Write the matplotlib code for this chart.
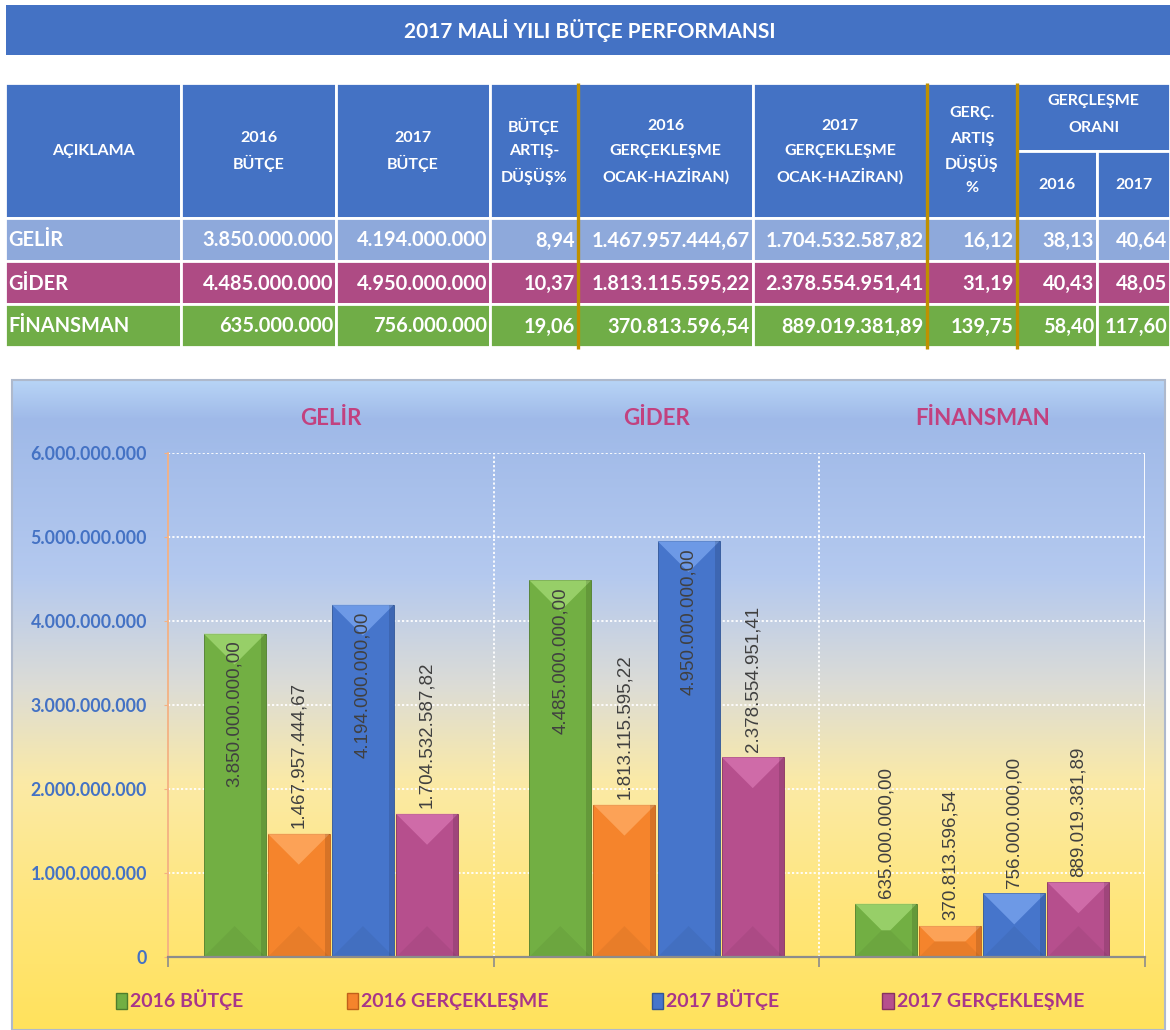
import matplotlib.pyplot as plt
import numpy as np
from matplotlib.colors import LinearSegmentedColormap
from matplotlib.patches import Patch, Polygon, Rectangle
from matplotlib.ticker import FuncFormatter, MultipleLocator

W, H = 1170, 1030
FONT = ['Lato', 'DejaVu Sans']

categories = ['GELİR', 'GİDER', 'FİNANSMAN']
series_names = ['2016 BÜTÇE', '2016 GERÇEKLEŞME', '2017 BÜTÇE', '2017 GERÇEKLEŞME']
budget_2016 = [3850000000.00, 4485000000.00, 635000000.00]
actual_2016 = [1467957444.67, 1813115595.22, 370813596.54]
budget_2017 = [4194000000.00, 4950000000.00, 756000000.00]
actual_2017 = [1704532587.82, 2378554951.41, 889019381.89]
budget_change = [8.94, 10.37, 19.06]
actual_change = [16.12, 31.19, 139.75]
ratio_2016 = [38.13, 40.43, 58.40]
ratio_2017 = [40.64, 48.05, 117.60]

header_labels = ['AÇIKLAMA', '2016\nBÜTÇE', '2017\nBÜTÇE', 'BÜTÇE\nARTIŞ-\nDÜŞÜŞ%',
                 '2016\nGERÇEKLEŞME\nOCAK-HAZİRAN)', '2017\nGERÇEKLEŞME\nOCAK-HAZİRAN)',
                 'GERÇ.\nARTIŞ\nDÜŞÜŞ\n%']
ratio_header = 'GERÇLEŞME\nORANI'
ratio_years = ['2016', '2017']

HEADER_BLUE = '#4472C4'
ROW_COLORS = ['#8EA9DB', '#AE4B84', '#70AD47']
GOLD = '#BF9000'
BAR_COLORS = ['#72AF43', '#F5842C', '#4675CB', '#B64F8D']
BAR_LIGHT = ['#A8DE78', '#FFB06A', '#7EA9F2', '#DA78B4']
BAR_DARK = ['#4E7D2C', '#C0601A', '#2F5597', '#86325F']


def tr_number(v, decimals=0):
    """Format a number the Turkish way: 1.234.567,89"""
    s = f'{v:,.{decimals}f}'
    return s.replace(',', 'X').replace('.', ',').replace('X', '.')


fig = plt.figure(figsize=(W / 100, H / 100), dpi=100)

# Background layer in pixel coordinates (table + chart panel).
bg = fig.add_axes([0, 0, 1, 1])
bg.set_xlim(0, W)
bg.set_ylim(H, 0)
bg.axis('off')


def header_text(xc, yc, label, gap=25):
    """Header text with a fixed pixel gap between lines (like the sheet)."""
    lines = label.split('\n')
    n = len(lines)
    for k, line in enumerate(lines):
        bg.text(xc, yc + (k - (n - 1) / 2) * gap, line, color='white', fontsize=11.5,
                fontweight='bold', family=FONT, ha='center', va='center')


# Title bar.
bg.add_patch(Rectangle((6, 5), W - 6, 50, color=HEADER_BLUE, lw=0))
bg.text(590, 30, '2017 MALİ YILI BÜTÇE PERFORMANSI', color='white', fontsize=15,
        fontweight='bold', family=FONT, ha='center', va='center')

# Table.
col_edges = [5, 181, 336, 490, 578, 753, 927, 1017, 1097, 1170]
head_top, head_mid, head_bottom = 83, 151, 218
row_edges = [218, 261, 304, 347]


def cell(x0, x1, y0, y1, color):
    bg.add_patch(Rectangle((x0, y0), x1 - x0, y1 - y0, facecolor=color,
                           edgecolor='white', lw=2))


for i, label in enumerate(header_labels):
    x0, x1 = col_edges[i], col_edges[i + 1]
    cell(x0, x1, head_top, head_bottom, HEADER_BLUE)
    header_text((x0 + x1) / 2, 151, label, gap=25 if '\n' in label else 0)

cell(col_edges[7], col_edges[9], head_top, head_mid, HEADER_BLUE)
header_text((col_edges[7] + col_edges[9]) / 2, 115, ratio_header, gap=27)
for j, year in enumerate(ratio_years):
    x0, x1 = col_edges[7 + j], col_edges[8 + j]
    cell(x0, x1, head_mid, head_bottom, HEADER_BLUE)
    header_text((x0 + x1) / 2, 185, year)

for r, name in enumerate(categories):
    y0, y1 = row_edges[r], row_edges[r + 1]
    values = [tr_number(budget_2016[r]), tr_number(budget_2017[r]),
              tr_number(budget_change[r], 2), tr_number(actual_2016[r], 2),
              tr_number(actual_2017[r], 2), tr_number(actual_change[r], 2),
              tr_number(ratio_2016[r], 2), tr_number(ratio_2017[r], 2)]
    for c in range(9):
        cell(col_edges[c], col_edges[c + 1], y0, y1, ROW_COLORS[r])
    ym = (y0 + y1) / 2 + 1
    bg.text(col_edges[0] + 3, ym, name, color='white', fontsize=14.4, fontweight='bold',
            family=FONT, ha='left', va='center')
    for c, txt in enumerate(values, start=1):
        bg.text(col_edges[c + 1] - 3, ym, txt, color='white', fontsize=14.4,
                fontweight='bold', family=FONT, ha='right', va='center')

for gx in (578, 927, 1017):
    bg.plot([gx, gx], [head_top, 349], color=GOLD, lw=2.4, solid_capstyle='butt')

# Chart panel with the blue -> yellow gradient.
panel = (12, 1165, 1030, 380)
grad_cmap = LinearSegmentedColormap.from_list('panel', [
    (0.00, '#B7D4F6'), (0.06, '#9FB9E8'), (0.30, '#B4C9EF'), (0.47, '#DCDCD6'),
    (0.62, '#FBEAA6'), (0.80, '#FFE67E'), (1.00, '#FFE25C')])
bg.imshow(np.linspace(0, 1, 256).reshape(-1, 1), cmap=grad_cmap, aspect='auto',
          extent=panel, zorder=1)
bg.add_patch(Rectangle((12, 380), 1153, 650, fill=False, edgecolor='#AEB9CC',
                       lw=1.5, zorder=2))
bg.set_xlim(0, W)
bg.set_ylim(H, 0)

# Bar chart.
left, right, top, bottom = 168, 1145, 453, 957
ax = fig.add_axes([left / W, 1 - bottom / H, (right - left) / W, (bottom - top) / H])
ax.patch.set_alpha(0)

series = [budget_2016, actual_2016, budget_2017, actual_2017]
x = np.arange(len(categories))
width = 0.19
step = 0.197
ymax = 6e9
ax.set_xlim(-0.5, len(categories) - 0.5)
ax.set_ylim(0, ymax)

px_x = (right - left) / len(categories)   # pixels per x unit
px_y = (bottom - top) / ymax              # pixels per y unit

for s, values in enumerate(series):
    bars = ax.bar(x + (s - 1.5) * step, values, width, color=BAR_COLORS[s],
                  edgecolor=BAR_DARK[s], linewidth=0.6, zorder=3)
    for p, v in zip(bars.patches, values):
        x0, w, h = p.get_x(), p.get_width(), p.get_height()
        d_px = min(w * px_x / 2, h * px_y / 2)
        dx, dy = d_px / px_x, d_px / px_y
        # bevel: light top facet, dark bottom facet, dark right rim
        ax.add_patch(Polygon([(x0, h), (x0 + w, h), (x0 + w - dx, h - dy), (x0 + dx, h - dy)],
                             closed=True, facecolor=BAR_LIGHT[s], alpha=0.7, lw=0, zorder=4))
        ax.add_patch(Polygon([(x0, 0), (x0 + w, 0), (x0 + w - dx, dy), (x0 + dx, dy)],
                             closed=True, facecolor='black', alpha=0.05, lw=0, zorder=4))
        ax.add_patch(Rectangle((x0 + w - 5 / px_x, 0), 5 / px_x, h, facecolor='black',
                               alpha=0.12, lw=0, zorder=4))
        label = tr_number(v, 2)
        if v > 3e9:
            ax.annotate(label, (x0 + w / 2, h), xytext=(0, -5), textcoords='offset points',
                        rotation=90, ha='center', va='top', fontsize=13.5,
                        family='Liberation Sans', color='#404040', zorder=5)
        else:
            ax.annotate(label, (x0 + w / 2, h), xytext=(0, 4), textcoords='offset points',
                        rotation=90, ha='center', va='bottom', fontsize=13.5,
                        family='Liberation Sans', color='#404040', zorder=5)

# Grid and axes.
ax.yaxis.set_major_locator(MultipleLocator(1e9))
ax.yaxis.set_major_formatter(FuncFormatter(lambda v, _: tr_number(v)))
ax.grid(axis='y', color='white', linestyle=(0, (1.2, 1.2)), lw=1.3, zorder=1)
for bx in (0.5, 1.5):
    ax.axvline(bx, color='white', linestyle=(0, (1.2, 1.2)), lw=1.3, zorder=1)
ax.axvline(len(categories) - 0.5, color='white', lw=1.3, zorder=1)

ax.set_xticks(np.arange(-0.5, len(categories), 1.0))
ax.set_xticklabels([])
ax.tick_params(axis='x', length=7, color='#8C8C8C', width=1.2)
ax.tick_params(axis='y', length=3, color='#F4B183', pad=12, labelsize=12.8,
               labelcolor='#4472C4')
for t in ax.get_yticklabels():
    t.set_fontweight('bold')
    t.set_family(FONT)

for side in ('top', 'right'):
    ax.spines[side].set_visible(False)
ax.spines['left'].set_color('#F4B183')
ax.spines['left'].set_linewidth(1.3)
ax.spines['bottom'].set_color('#8C8C8C')
ax.spines['bottom'].set_linewidth(1.6)
ax.spines['bottom'].set_zorder(6)

for i, name in enumerate(categories):
    ax.text(i, 1.069, name, transform=ax.get_xaxis_transform(), ha='center', va='center',
            fontsize=16, fontweight='bold', family=FONT, color='#C2417F')

# Legend.
handles = [Patch(facecolor=BAR_COLORS[s], edgecolor=BAR_DARK[s]) for s in range(4)]
leg = fig.legend(handles, series_names, loc='center', bbox_to_anchor=(600 / W, 1 - 1000 / H),
                 ncol=4, frameon=False, handlelength=0.6, handleheight=0.9,
                 handletextpad=0.15, columnspacing=5.3,
                 prop={'family': FONT, 'weight': 'bold', 'size': 14})
for t in leg.get_texts():
    t.set_color('#A8358A')

fig.savefig('out.png', dpi=100)
